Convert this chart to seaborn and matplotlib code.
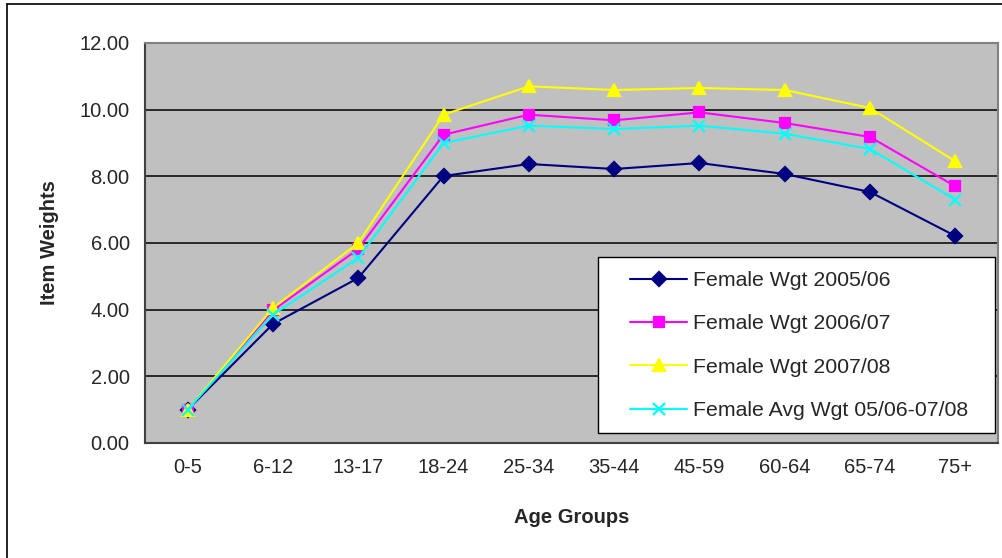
import seaborn as sns
import matplotlib.pyplot as plt
import matplotlib.patches as mpatches
import matplotlib.lines as mlines
import pandas as pd

# age groups and the four weight series
age_groups = ['0-5', '6-12', '13-17', '18-24', '25-34', '35-44', '45-59', '60-64', '65-74', '75+']
wgt_0506 = [1.00, 3.57, 4.95, 8.01, 8.37, 8.22, 8.40, 8.07, 7.53, 6.21]
wgt_0607 = [1.00, 3.98, 5.82, 9.25, 9.85, 9.68, 9.92, 9.60, 9.18, 7.70]
wgt_0708 = [1.00, 4.05, 6.00, 9.85, 10.70, 10.59, 10.65, 10.59, 10.05, 8.45]
wgt_avg = [1.00, 3.85, 5.55, 9.00, 9.52, 9.42, 9.52, 9.28, 8.82, 7.30]

series_names = ['Female Wgt 2005/06', 'Female Wgt 2006/07', 'Female Wgt 2007/08',
                'Female Avg Wgt 05/06-07/08']
colors = ['#000080', '#FF00FF', '#FFFF00', '#00FFFF']
marker_list = ['D', 's', '^', 'x']
marker_sizes = [7.5, 7, 9, 8]

rows = []
for name, vals in zip(series_names, [wgt_0506, wgt_0607, wgt_0708, wgt_avg]):
    for i, v in enumerate(vals):
        rows.append({'pos': i, 'age': age_groups[i], 'weight': v, 'series': name})
df = pd.DataFrame(rows)

sns.set_style('white')
plt.rcParams['font.family'] = ['Liberation Sans', 'DejaVu Sans']

fig = plt.figure(figsize=(10.02, 5.58), dpi=100)
ax = fig.add_axes([145 / 1002, 1 - 443 / 558, 853 / 1002, 400 / 558])
ax.set_facecolor('#C0C0C0')

# one call per series since filled and line markers can't be mixed
for name, col, mk, ms in zip(series_names, colors, marker_list, marker_sizes):
    sub = df[df['series'] == name]
    sns.lineplot(data=sub, x='pos', y='weight', color=col, marker=mk,
                 markeredgecolor=col, markeredgewidth=1.6, markersize=ms,
                 linewidth=1.5, label=name, ax=ax, zorder=3)

ax.set_xlim(-0.5, len(age_groups) - 0.5)
ax.set_ylim(0, 12)
ax.set_yticks(range(0, 13, 2))
ax.set_yticklabels([f'{t:.2f}' for t in range(0, 13, 2)], fontsize=14.5)
ax.set_xticks(range(len(age_groups)))
ax.set_xticklabels(age_groups, fontsize=14.5)
ax.set_xticks([i - 0.5 for i in range(len(age_groups) + 1)], minor=True)
ax.tick_params(axis='x', which='major', length=0, pad=11)
ax.tick_params(axis='x', which='minor', length=6, width=1.2, color='#404040', direction='out')
ax.tick_params(axis='y', length=6, width=1.2, color='#404040', direction='out', pad=5)
ax.grid(axis='y', color='black', linewidth=1.1)
ax.set_axisbelow(True)

for side in ['top', 'right']:
    ax.spines[side].set_color('#808080')
    ax.spines[side].set_linewidth(1.5)
for side in ['left', 'bottom']:
    ax.spines[side].set_color('#404040')
    ax.spines[side].set_linewidth(1.5)

ax.set_xlabel('Age Groups', fontsize=14.5, fontweight='bold', labelpad=22)
ax.set_ylabel('Item Weights', fontsize=14.5, fontweight='bold', labelpad=15)

# legend box drawn by hand so the padding can differ left/top
box = mpatches.Rectangle((453 / 853, 10 / 400), 397 / 853, 176 / 400, transform=ax.transAxes,
                         facecolor='white', edgecolor='black', linewidth=1.0, zorder=4.5)
ax.add_patch(box)
leg = ax.legend(loc='upper left', bbox_to_anchor=(485 / 853, 172 / 400), fontsize=15.3,
                frameon=False, borderpad=0, labelspacing=1.15, handlelength=2.7,
                handletextpad=0.25, borderaxespad=0)
leg.set_zorder(5)

# outer chart border (top and left edges visible)
fig.add_artist(mlines.Line2D([7 / 1002, 7 / 1002], [0, 1 - 4 / 558], color='black', linewidth=1.2))
fig.add_artist(mlines.Line2D([7 / 1002, 1], [1 - 4 / 558, 1 - 4 / 558], color='black', linewidth=1.2))

fig.savefig('out.png', dpi=100, facecolor='white')
